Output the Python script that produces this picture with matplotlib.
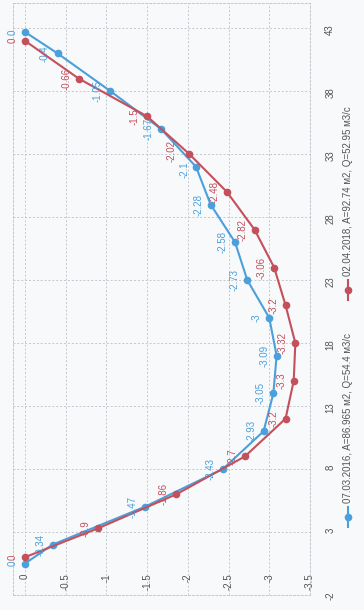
import matplotlib
matplotlib.use('Agg')
import matplotlib.pyplot as plt
from matplotlib.lines import Line2D

plt.rcParams['font.family'] = ['Liberation Sans', 'DejaVu Sans']

# ---- data (distance along section, depth) ----
blue_dist = [0.5, 2, 5, 8, 11, 14, 17, 20, 23, 26, 29, 32, 35, 38, 41, 42.7]
blue_depth = [0, -0.34, -1.47, -2.43, -2.93, -3.05, -3.09, -3, -2.73, -2.58,
              -2.28, -2.1, -1.67, -1.05, -0.4, 0]
red_dist = [1, 3.3, 6, 9, 12, 15, 18, 21, 24, 27, 30, 33, 36, 39, 42]
red_depth = [0, -0.9, -1.86, -2.7, -3.2, -3.3, -3.32, -3.2, -3.06, -2.82,
             -2.48, -2.02, -1.5, -0.66, 0]
blue_name = "07.03.2016, A=86.965 м2, Q=54.4 м3/с"
red_name = "02.04.2018, A=92.74 м2, Q=52.95 м3/с"
depth_ticks = [0, -0.5, -1, -1.5, -2, -2.5, -3, -3.5]
dist_ticks = [-2, 3, 8, 13, 18, 23, 28, 33, 38, 43]

BLUE = '#4b9fdb'
RED = '#c4505c'
GRID = '#c3c8ce'

fig = plt.figure(figsize=(3.64, 6.10), dpi=100, facecolor='#f8f9fa')
ax = fig.add_axes([13/364, 15/610, (310-13)/364, (607-15)/610])
ax.set_facecolor('#f8f9fa')

ax.set_xlim(0.147, -3.5)
ax.set_ylim(-2, 45)
ax.set_xticks(depth_ticks)
ax.set_xticklabels([f"{t:g}" for t in depth_ticks])
ax.set_yticks(dist_ticks)
ax.set_yticklabels([f"{t:g}" for t in dist_ticks])
ax.yaxis.tick_right()

ax.tick_params(axis='x', length=0, pad=-15.5, labelsize=7, labelcolor='#555555')
ax.tick_params(axis='y', length=0, pad=11, labelsize=7, labelcolor='#555555')
for lab in ax.get_xticklabels():
    lab.set_rotation(90)
for lab in ax.get_yticklabels():
    lab.set_rotation(90)

ax.grid(True, color=GRID, linestyle=(0, (2, 2)), linewidth=0.7)
ax.set_axisbelow(True)
for sp in ax.spines.values():
    sp.set_color(GRID)
    sp.set_linestyle((0, (2, 2)))
    sp.set_linewidth(0.7)

# a few labels nudged so that they do not collide
nudge = {('b', 11): (-8, -2), ('r', 11): (-13, 2)}

for key, dist, depth, col in (('b', blue_dist, blue_depth, BLUE),
                              ('r', red_dist, red_depth, RED)):
    ax.plot(depth, dist, color=col, lw=1.5, marker='o', ms=4.5, zorder=3)
    for i, (d, s) in enumerate(zip(depth, dist)):
        off = nudge.get((key, i), (-9, 0))
        ax.annotate(f"{d:g}", xy=(d, s), xytext=off, textcoords='offset points',
                    rotation=90, ha='center', va='center', fontsize=7, color=col,
                    zorder=4)

# ---- legend (rotated, drawn manually) ----
lx = 348/364
for col, y0, y1, name in ((BLUE, 527, 507, blue_name), (RED, 300, 280, red_name)):
    fy0 = (610 - y0)/610
    fy1 = (610 - y1)/610
    fig.add_artist(Line2D([lx, lx], [fy0, fy1], transform=fig.transFigure,
                          color=col, lw=1.5))
    fig.add_artist(Line2D([lx], [(fy0+fy1)/2], transform=fig.transFigure,
                          color=col, marker='o', ms=4.5))
    fig.text(lx, fy1 + 4/610, name, rotation=90, ha='center', va='bottom',
             fontsize=7, color='#555555')

fig.savefig('out.png', dpi=100, facecolor=fig.get_facecolor())
